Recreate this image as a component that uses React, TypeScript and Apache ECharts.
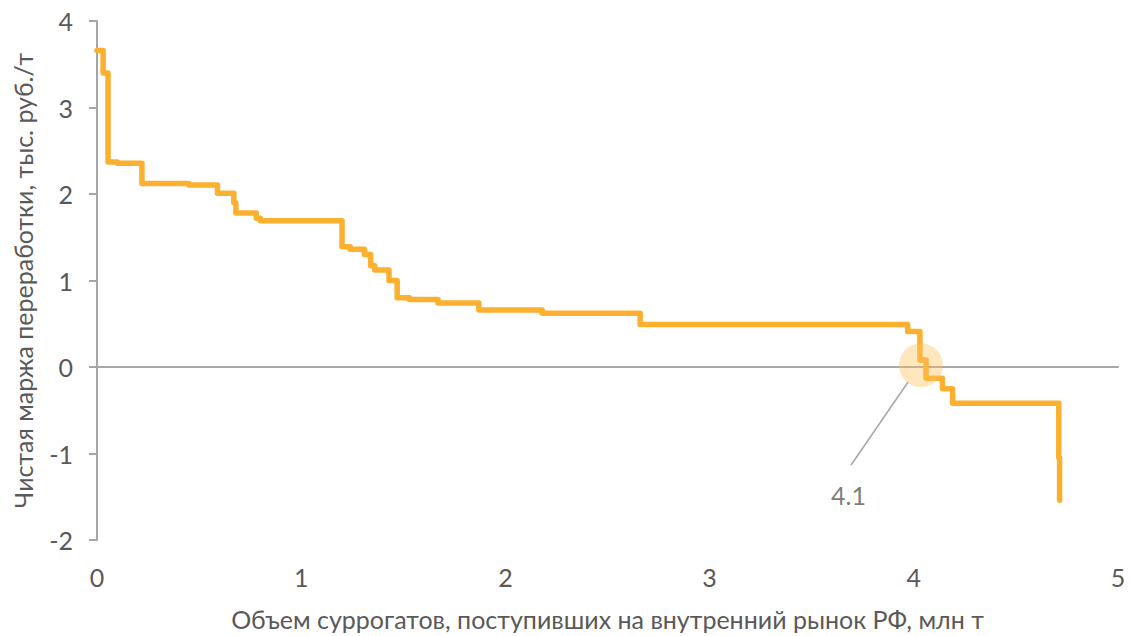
import React, { useEffect, useRef } from "react";
import * as echarts from "echarts";

// Step starts (volume, mln t) and the margin level that holds from that point
const volumes = [
  0.0, 0.03, 0.054, 0.1, 0.22, 0.45, 0.59, 0.67, 0.68, 0.78, 0.8, 1.2, 1.24, 1.31,
  1.34, 1.36, 1.43, 1.47, 1.53, 1.67, 1.87, 2.18, 2.66, 3.97, 4.03, 4.06, 4.14,
  4.19, 4.71, 4.714,
];
const margins = [
  3.66, 3.4, 2.37, 2.355, 2.12, 2.105, 2.01, 1.9, 1.78, 1.72, 1.69, 1.39, 1.36, 1.3,
  1.17, 1.12, 1.0, 0.8, 0.78, 0.74, 0.66, 0.62, 0.49, 0.41, 0.08, -0.13, -0.25,
  -0.42, -1.05, -1.54,
];

const xTicks = [0, 1, 2, 3, 4, 5];
const yTicks = [-2, -1, 0, 1, 2, 3, 4];

// Highlight at the break-even volume and its callout
const highlightPoint = [4.035, 0.02];
const calloutLine = [
  [3.972, -0.173],
  [3.693, -1.133],
];
const calloutLabelPos = [3.68, -1.48];
const calloutText = "4.1";

const xTitle = "Объем суррогатов, поступивших на внутренний рынок РФ, млн т";
const yTitle = "Чистая маржа переработки, тыс. руб./т";

const FONT = "Lato, 'Noto Sans', sans-serif";
const FS = 25;
const TEXT = "#595959";
const GREY = "#A6A6A6";
const ORANGE = "#FBB030";

export default function App() {
  const ref = useRef<HTMLDivElement>(null);

  useEffect(() => {
    if (!ref.current) return;
    const chart = echarts.init(ref.current, undefined, { renderer: "svg" });
    const stepData = volumes.map((v, i) => [v, margins[i]]);
    chart.setOption({
      animation: false,
      backgroundColor: "#ffffff",
      textStyle: { fontFamily: FONT },
      grid: { left: 97, right: 14, top: 21, bottom: 96 },
      xAxis: [
        {
          type: "value",
          min: xTicks[0],
          max: xTicks[xTicks.length - 1],
          interval: 1,
          axisLine: { onZero: true, lineStyle: { color: GREY, width: 2 } },
          axisTick: { show: false },
          axisLabel: { show: false },
          splitLine: { show: false },
        },
        {
          type: "value",
          position: "bottom",
          min: xTicks[0],
          max: xTicks[xTicks.length - 1],
          interval: 1,
          axisLine: { show: false, onZero: false },
          axisTick: { show: false },
          axisLabel: { show: true, color: TEXT, fontSize: FS, margin: 24, fontFamily: FONT },
          splitLine: { show: false },
          name: xTitle,
          nameLocation: "middle",
          nameGap: 66,
          nameTextStyle: { color: TEXT, fontSize: FS, fontFamily: FONT },
        },
      ],
      yAxis: {
        type: "value",
        min: yTicks[0],
        max: yTicks[yTicks.length - 1],
        interval: 1,
        axisLine: { show: true, onZero: false, lineStyle: { color: GREY, width: 2 } },
        axisTick: { show: true, inside: false, length: 8, lineStyle: { color: GREY, width: 2 } },
        axisLabel: { color: TEXT, fontSize: FS, margin: 24, fontFamily: FONT },
        splitLine: { show: false },
        name: yTitle,
        nameLocation: "middle",
        nameGap: 62,
        nameTextStyle: { color: TEXT, fontSize: FS, fontFamily: FONT },
      },
      series: [
        {
          type: "line",
          xAxisIndex: 0,
          step: "end",
          data: stepData,
          showSymbol: false,
          symbol: "none",
          lineStyle: { color: ORANGE, width: 5.5, cap: "round", join: "round" },
          z: 3,
        },
        {
          type: "scatter",
          xAxisIndex: 0,
          data: [highlightPoint],
          symbolSize: 44,
          itemStyle: { color: "rgba(252, 196, 96, 0.5)" },
          z: 4,
          silent: true,
        },
        {
          type: "line",
          xAxisIndex: 0,
          data: calloutLine,
          showSymbol: false,
          symbol: "none",
          lineStyle: { color: GREY, width: 1.5 },
          z: 2,
          silent: true,
        },
        {
          type: "scatter",
          xAxisIndex: 0,
          data: [calloutLabelPos],
          symbolSize: 0,
          label: {
            show: true,
            position: "inside",
            formatter: calloutText,
            color: TEXT,
            fontSize: FS,
            fontFamily: FONT,
          },
          z: 5,
          silent: true,
        },
      ],
    });
    return () => chart.dispose();
  }, []);

  return (
    <div
      ref={ref}
      style={{ position: "fixed", left: 0, top: 0, width: 1132, height: 636, background: "#fff" }}
    />
  );
}
